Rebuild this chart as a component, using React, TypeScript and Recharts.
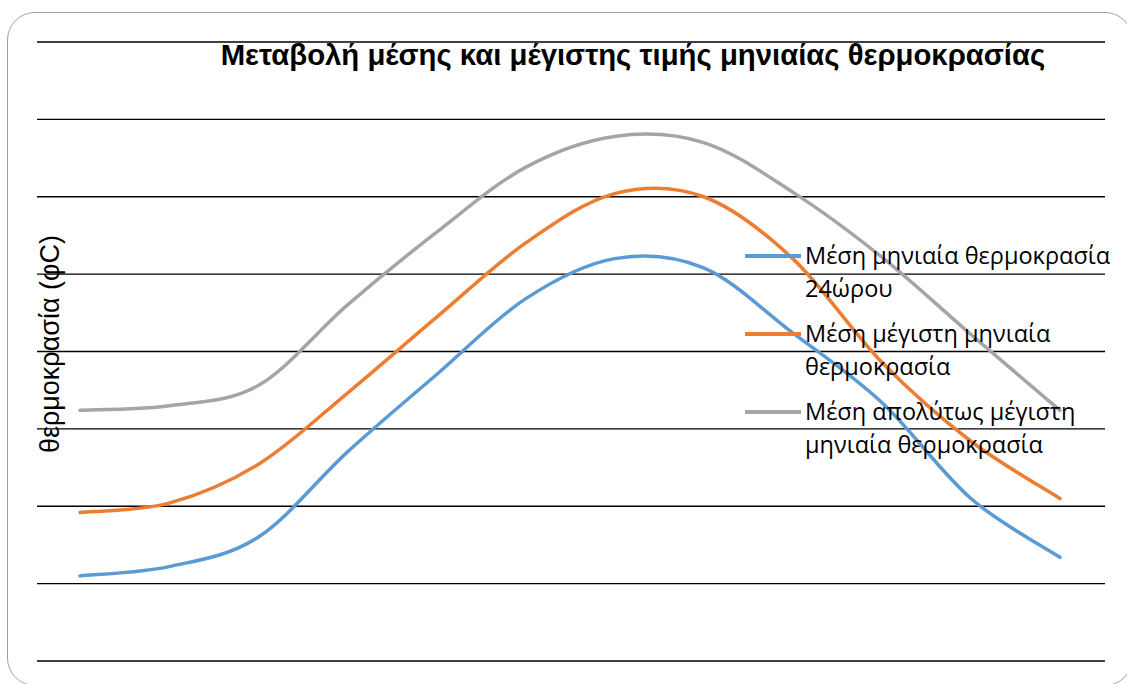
import { LineChart, Line, XAxis, YAxis, ReferenceLine } from 'recharts';

// months 1..12 (no labels shown on the reference)
const months = ['1', '2', '3', '4', '5', '6', '7', '8', '9', '10', '11', '12'];

const meanTemp = [5.5, 6.1, 8.0, 13.5, 18.5, 23.4, 26.0, 25.4, 21.2, 16.7, 10.5, 6.7];
const meanMaxTemp = [9.6, 10.2, 12.7, 17.3, 22.2, 27.0, 30.2, 30.0, 26.0, 19.3, 14.2, 10.5];
const absMaxTemp = [16.2, 16.5, 17.8, 23.0, 27.7, 31.9, 33.9, 33.5, 30.3, 26.1, 21.1, 16.2];

const yTicks = [0, 5, 10, 15, 20, 25, 30, 35, 40];

const seriesNames = [
    'Μέση μηνιαία θερμοκρασία 24ώρου',
    'Μέση μέγιστη μηνιαία θερμοκρασία',
    'Μέση απολύτως μέγιστη μηνιαία θερμοκρασία',
];
const seriesColors = ['#5B9BD5', '#ED7D31', '#A5A5A5'];

const data = months.map((m, i) => ({
    month: m,
    mean: meanTemp[i],
    meanMax: meanMaxTemp[i],
    absMax: absMaxTemp[i],
}));

const W = 1127;
const H = 684;

// spreadsheet-style smoothed line (Catmull-Rom as cubic beziers)
const smoothCurve = (context: any) => {
    let pts: number[][] = [];
    return {
        areaStart() {},
        areaEnd() {},
        lineStart() {
            pts = [];
        },
        point(x: number, y: number) {
            pts.push([+x, +y]);
        },
        lineEnd() {
            if (!pts.length) return;
            context.moveTo(pts[0][0], pts[0][1]);
            for (let i = 0; i < pts.length - 1; i++) {
                const p0 = pts[i - 1] || pts[i];
                const p1 = pts[i];
                const p2 = pts[i + 1];
                const p3 = pts[i + 2] || p2;
                context.bezierCurveTo(
                    p1[0] + (p2[0] - p0[0]) / 6,
                    p1[1] + (p2[1] - p0[1]) / 6,
                    p2[0] - (p3[0] - p1[0]) / 6,
                    p2[1] - (p3[1] - p1[1]) / 6,
                    p2[0],
                    p2[1]
                );
            }
        },
    };
};

export default function App() {
    return (
        <div style={{ position: 'absolute', left: 0, top: 0, width: W, height: H, overflow: 'hidden', background: '#fff' }}>
            {/* rounded frame */}
            <div
                style={{
                    position: 'absolute',
                    left: 7,
                    top: 12,
                    width: 1126,
                    height: 674,
                    border: '1px solid #a0a0a0',
                    borderRadius: 28,
                    boxSizing: 'border-box',
                }}
            />

            <LineChart
                width={W}
                height={H}
                data={data}
                margin={{ top: 42, right: 22, left: 37, bottom: 23 }}
                style={{ position: 'absolute', left: 0, top: 0 }}
            >
                <XAxis
                    dataKey="month"
                    tick={false}
                    axisLine={false}
                    tickLine={false}
                    height={0}
                    padding={{ left: 43, right: 45 }}
                />
                <YAxis
                    domain={[0, 40]}
                    ticks={yTicks}
                    tick={false}
                    axisLine={false}
                    tickLine={false}
                    width={0}
                />
                {/* horizontal gridlines */}
                {yTicks.map((t) => (
                    <ReferenceLine key={t} y={t} stroke="#000" strokeWidth={1.3} ifOverflow="extendDomain" />
                ))}
                <Line
                    type={smoothCurve as any}
                    dataKey="mean"
                    name={seriesNames[0]}
                    stroke={seriesColors[0]}
                    strokeWidth={3.5}
                    dot={false}
                    strokeLinecap="round"
                    isAnimationActive={false}
                />
                <Line
                    type={smoothCurve as any}
                    dataKey="meanMax"
                    name={seriesNames[1]}
                    stroke={seriesColors[1]}
                    strokeWidth={3.5}
                    dot={false}
                    strokeLinecap="round"
                    isAnimationActive={false}
                />
                <Line
                    type={smoothCurve as any}
                    dataKey="absMax"
                    name={seriesNames[2]}
                    stroke={seriesColors[2]}
                    strokeWidth={3.5}
                    dot={false}
                    strokeLinecap="round"
                    isAnimationActive={false}
                />
            </LineChart>

            {/* legend, drawn over the lines like in the original */}
            <div
                style={{
                    position: 'absolute',
                    left: 745,
                    top: 239,
                    fontFamily: '"Open Sans", sans-serif',
                    fontSize: 23.5,
                    color: '#000',
                }}
            >
                {seriesNames.map((name, i) => (
                    <div key={i} style={{ display: 'flex', alignItems: 'flex-start', marginBottom: 12 }}>
                        <div style={{ width: 56, height: 33, position: 'relative', flexShrink: 0 }}>
                            <div
                                style={{
                                    position: 'absolute',
                                    left: 0,
                                    right: 0,
                                    top: 15,
                                    height: 4,
                                    background: seriesColors[i],
                                }}
                            />
                        </div>
                        <div style={{ width: 322, lineHeight: '33px', marginLeft: 4 }}>{name}</div>
                    </div>
                ))}
            </div>

            {/* title */}
            <div
                style={{
                    position: 'absolute',
                    left: 0,
                    width: 1266,
                    top: 38,
                    textAlign: 'center',
                    fontFamily: '"Liberation Sans", Arial, sans-serif',
                    fontWeight: 'bold',
                    fontSize: 29.3,
                    color: '#000',
                    whiteSpace: 'nowrap',
                }}
            >
                Μεταβολή μέσης και μέγιστης τιμής μηνιαίας θερμοκρασίας
            </div>

            {/* y axis title */}
            <div
                style={{
                    position: 'absolute',
                    left: 50,
                    top: 344,
                    transform: 'translate(-50%, -50%) rotate(-90deg)',
                    fontFamily: '"Liberation Sans", Arial, sans-serif',
                    fontSize: 27,
                    color: '#000',
                    whiteSpace: 'nowrap',
                }}
            >
                θερμοκρασία (φC)
            </div>
        </div>
    );
}
